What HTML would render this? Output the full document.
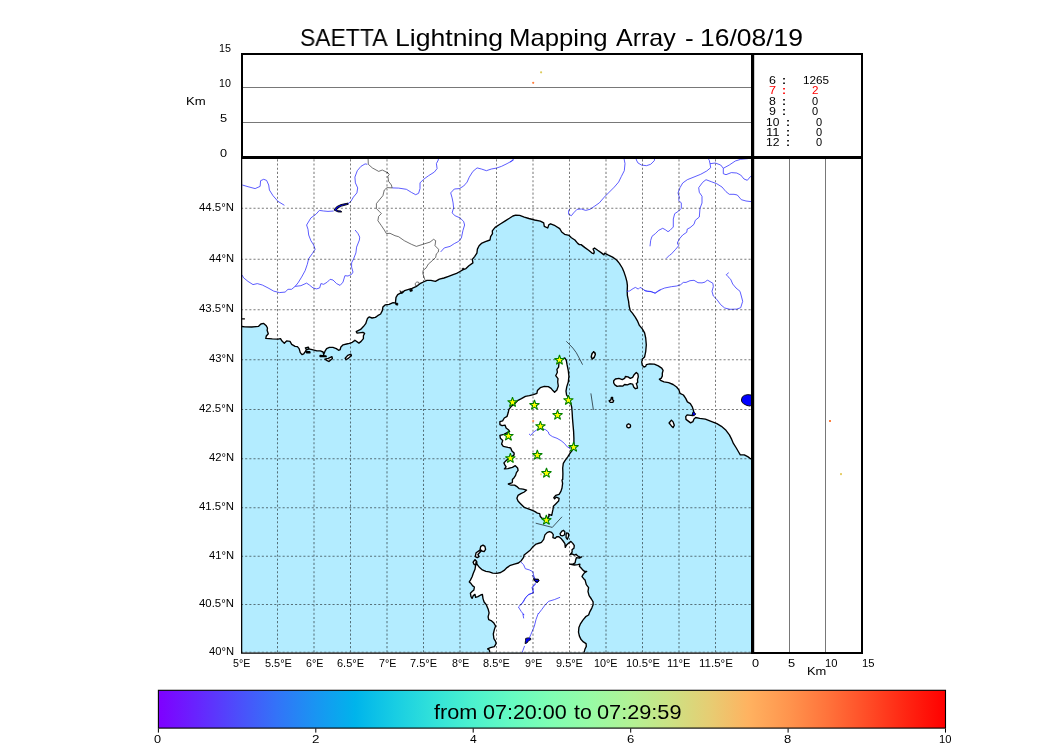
<!DOCTYPE html><html><head><meta charset="utf-8"><title>SAETTA Lightning Mapping Array</title>
<style>html,body{margin:0;padding:0;background:#fff}body{width:1050px;height:750px;position:relative;overflow:hidden;font-family:"Liberation Sans",sans-serif}
.t{position:absolute;white-space:pre;line-height:1;margin:0;padding:0;will-change:transform}
</style></head><body>
<svg width="1050" height="750" viewBox="0 0 1050 750" style="position:absolute;left:0;top:0">
<defs><clipPath id="mapclip"><rect x="241.5" y="157.5" width="511" height="495"/></clipPath>
<linearGradient id="rb" x1="0" x2="1" y1="0" y2="0">
<stop offset="0%" stop-color="#7f00ff"/>
<stop offset="5%" stop-color="#6725fe"/>
<stop offset="10%" stop-color="#4d4dfb"/>
<stop offset="15%" stop-color="#3373f8"/>
<stop offset="20%" stop-color="#1995f2"/>
<stop offset="25%" stop-color="#00b4eb"/>
<stop offset="30%" stop-color="#18cde3"/>
<stop offset="35%" stop-color="#32e2d9"/>
<stop offset="40%" stop-color="#4cf2ce"/>
<stop offset="45%" stop-color="#66fbc1"/>
<stop offset="50%" stop-color="#80feb3"/>
<stop offset="55%" stop-color="#98fba5"/>
<stop offset="60%" stop-color="#b2f295"/>
<stop offset="65%" stop-color="#cce284"/>
<stop offset="70%" stop-color="#e6cd73"/>
<stop offset="75%" stop-color="#ffb260"/>
<stop offset="80%" stop-color="#ff954e"/>
<stop offset="85%" stop-color="#ff733b"/>
<stop offset="90%" stop-color="#ff4d27"/>
<stop offset="95%" stop-color="#ff2512"/>
<stop offset="100%" stop-color="#ff0000"/>
</linearGradient></defs>
<g clip-path="url(#mapclip)">
<rect x="241" y="157" width="512" height="496" fill="#b3ecff"/>
<path d="M236.0 326.5 242.0 326.5 244.9 326.9 251.7 327.0 258.6 326.3 260.9 324.0 263.7 323.4 266.0 325.4 267.5 328.0 267.1 330.3 268.3 333.7 266.3 336.0 265.8 338.3 272.3 338.9 278.0 339.1 280.5 338.6 282.0 341.1 284.3 343.2 286.6 340.9 290.0 341.4 291.7 344.3 295.1 346.3 297.4 346.6 299.1 348.6 300.3 352.6 302.0 354.6 303.7 353.9 305.4 351.4 306.6 349.4 308.3 348.9 311.1 349.4 314.0 350.1 316.9 350.9 320.3 350.9 323.1 352.0 323.7 354.6 324.9 351.4 326.6 348.6 329.4 347.4 332.9 347.4 336.3 348.6 338.6 350.3 340.1 349.7 340.9 346.9 343.1 344.8 346.6 344.0 349.4 343.4 352.3 342.3 354.6 340.6 354.9 340.3 358.9 343.1 361.1 341.4 363.4 338.6 363.4 335.7 364.6 333.4 362.9 332.3 357.1 333.1 356.2 331.7 360.6 329.4 363.4 326.6 365.7 323.7 367.4 318.6 369.1 316.9 372.0 318.0 375.4 317.4 377.7 315.7 380.6 314.0 382.3 310.6 382.9 307.1 385.1 304.9 389.1 304.3 393.1 302.6 395.4 303.1 396.0 297.4 397.7 294.6 400.0 293.4 402.3 292.9 404.6 290.6 408.6 289.4 412.0 288.3 416.0 286.6 420.0 283.7 423.4 282.0 426.9 280.3 430.9 280.3 435.4 281.4 439.4 279.1 444.0 278.0 448.6 276.3 453.1 274.6 456.6 273.4 459.1 272.0 463.1 269.7 466.0 268.6 468.9 265.7 472.9 262.9 472.3 259.4 474.6 256.6 476.9 253.1 477.4 249.1 479.1 245.7 481.4 243.4 485.4 241.7 490.0 240.0 490.6 236.6 492.5 233.7 492.3 230.9 495.1 227.4 500.3 224.0 504.9 221.1 509.4 218.3 512.9 216.0 515.7 215.2 519.7 215.4 524.3 217.1 528.9 218.5 534.6 220.0 540.3 221.1 543.7 222.9 544.3 226.3 547.7 228.0 548.9 224.6 550.6 223.8 555.1 225.7 559.7 228.6 561.7 232.0 564.6 234.3 569.1 235.4 571.4 237.7 574.9 240.0 577.7 243.4 579.4 244.6 581.1 244.6 584.6 247.4 588.6 250.3 592.0 253.1 593.7 253.7 594.3 252.0 593.1 249.1 594.5 248.0 597.7 250.3 601.1 252.6 604.0 254.9 604.6 253.1 608.0 254.9 612.6 257.1 616.6 260.0 619.4 263.4 622.3 268.0 624.2 272.6 625.7 277.1 626.9 281.7 627.4 285.7 627.2 291.4 627.4 295.7 628.6 301.4 629.1 306.0 630.3 310.6 632.6 313.4 635.4 317.4 637.7 321.4 639.4 325.4 642.3 328.9 644.6 332.9 645.7 338.0 646.3 344.9 645.7 351.7 644.6 356.9 642.3 359.1 642.5 359.6 641.7 361.9 642.3 365.3 644.0 367.0 645.7 366.4 646.3 364.7 649.7 363.9 654.3 364.1 658.3 365.9 661.7 368.1 663.1 370.4 662.3 373.3 662.3 376.1 661.1 378.4 659.4 379.2 661.1 380.7 664.0 381.9 668.6 382.7 673.1 384.5 676.6 387.0 678.9 389.9 680.0 393.3 683.4 395.0 685.7 398.4 687.4 401.9 690.3 403.6 692.0 406.4 692.3 406.9 693.4 410.3 694.0 412.6 692.9 415.7 687.1 414.9 685.7 416.6 686.0 419.4 688.3 421.1 690.6 422.9 692.9 421.7 694.0 418.9 695.7 417.5 699.7 418.3 705.4 419.1 711.1 421.4 716.9 423.7 721.4 426.3 726.0 430.3 729.4 434.9 731.7 439.4 733.4 443.4 736.3 448.0 738.6 452.0 740.3 454.9 744.3 454.9 747.7 456.6 750.0 458.3 752.9 460.2 758.0 460.5 758.0 150.0 236.0 150.0Z M502.6 420.9 504.3 418.0 507.1 416.3 508.3 412.3 508.9 409.4 511.1 406.6 514.6 403.7 518.0 400.3 521.4 398.6 525.4 396.3 529.4 395.7 533.4 394.6 536.9 393.4 537.4 390.6 540.3 387.7 544.3 386.3 548.3 386.6 551.1 388.3 552.9 390.6 554.6 392.3 556.9 390.0 558.3 386.0 557.7 382.0 558.0 378.6 555.7 375.7 557.4 372.3 556.9 369.4 558.6 367.1 558.9 363.7 559.7 359.7 563.1 358.6 564.9 358.0 566.3 360.3 567.1 364.9 568.3 370.6 568.9 376.3 568.3 382.0 566.8 386.6 566.0 391.1 566.6 395.1 568.9 398.0 570.6 402.6 571.7 407.1 572.1 411.7 572.5 418.6 573.0 424.6 573.6 431.4 573.9 438.3 573.9 444.0 573.0 448.6 571.9 450.9 570.1 453.1 567.9 456.6 565.0 460.6 563.3 463.4 562.7 468.0 562.9 473.7 562.7 479.4 562.0 480.0 562.6 483.4 562.0 488.0 560.9 491.4 559.1 494.3 555.7 495.4 553.8 497.7 554.6 498.9 556.3 497.1 559.1 498.3 558.6 501.1 555.7 504.0 553.4 506.3 552.9 509.7 552.3 512.6 551.7 515.4 548.9 514.3 548.9 516.6 546.6 518.9 543.7 518.3 542.0 518.3 540.3 516.6 539.7 513.7 537.4 513.1 534.6 511.4 531.1 509.9 527.7 508.6 524.3 507.4 522.6 505.7 520.3 503.4 518.0 501.1 516.9 498.3 518.0 495.4 520.9 493.7 524.3 492.0 526.6 490.1 523.1 489.1 519.1 488.6 517.4 486.9 514.6 485.1 511.1 485.1 508.3 484.0 511.7 482.9 512.4 482.3 512.4 479.4 514.1 477.7 515.6 475.4 516.4 472.6 518.1 470.3 517.6 468.0 515.3 465.7 512.4 467.4 507.9 468.6 504.4 468.9 506.1 466.9 505.0 465.1 503.9 462.9 506.7 460.0 511.9 456.6 514.1 454.9 514.1 453.1 511.9 450.9 510.7 448.0 507.9 447.4 503.3 446.3 501.6 444.0 502.7 440.6 500.4 438.3 499.9 435.4 503.9 434.3 509.6 431.4 508.4 429.7 506.1 428.0 505.0 425.1 502.1 425.7 499.9 424.6 499.9 421.7Z M489.9 656.3 489.9 652.9 489.3 650.0 487.6 648.9 490.4 647.7 494.4 646.6 496.1 643.7 495.6 641.4 493.9 638.6 493.3 634.0 494.4 629.4 495.6 626.0 493.9 623.1 491.6 620.9 488.7 619.7 488.1 616.9 489.1 612.9 488.1 608.9 486.4 604.9 484.1 602.0 483.0 598.6 482.4 594.4 480.7 595.0 477.9 596.7 475.6 597.3 475.0 594.4 473.3 595.6 472.1 598.4 471.0 596.7 470.4 593.3 472.1 591.6 473.9 589.9 474.4 587.0 472.7 585.9 471.0 583.6 469.3 581.9 470.4 580.1 472.1 576.7 473.3 573.3 475.0 569.3 475.6 565.3 476.1 561.9 477.3 564.7 479.6 567.6 482.4 569.9 485.9 571.3 489.3 571.8 492.7 573.1 496.7 573.3 500.7 572.5 504.1 570.4 507.0 567.6 510.4 565.3 514.4 564.1 518.4 563.0 521.3 560.7 523.6 557.3 524.1 555.0 527.0 552.7 530.4 549.9 533.3 546.4 536.1 544.1 539.6 543.0 541.4 542.3 543.7 539.4 544.9 534.9 547.1 532.6 549.4 531.7 551.6 532.4 553.3 534.6 552.9 537.6 555.0 538.4 556.7 536.7 558.9 536.7 561.0 538.4 563.1 541.0 564.9 543.6 565.3 547.4 566.6 544.9 568.7 543.1 570.9 541.4 573.0 543.6 574.3 545.7 573.9 548.3 572.1 549.6 572.1 552.1 570.0 554.7 572.1 553.9 574.3 555.1 576.0 554.3 577.7 556.0 580.3 557.3 581.6 556.9 579.4 558.1 576.4 557.7 575.6 560.3 575.1 562.9 573.0 564.1 569.6 564.1 574.3 565.0 577.7 564.6 579.9 564.1 579.4 566.3 581.1 568.0 582.9 570.1 584.6 571.4 586.7 571.4 584.6 572.7 582.9 574.9 582.0 576.6 583.7 578.7 585.0 580.0 585.1 580.1 586.3 584.7 588.6 587.6 588.0 591.6 589.1 595.6 591.4 599.0 593.1 601.9 593.1 604.7 591.8 608.1 589.9 611.6 588.6 615.0 585.7 616.7 582.9 620.1 580.6 623.6 578.9 627.6 578.5 632.1 579.4 636.1 581.1 639.6 583.4 641.9 586.1 643.6 586.3 646.4 584.9 649.3 584.0 652.7 583.4 657.3Z M320.1 355.5 326.0 355.8 326.2 356.7 320.1 356.5Z M324.9 359.2 328.3 358.3 331.9 356.6 332.4 358.5 328.9 361.5 326.6 360.3Z M345.2 358.3 347.7 355.4 350.9 354.2 351.4 355.8 348.6 358.1 346.0 359.7Z M305.4 347.8 308.3 347.1 309.1 348.9 306.6 349.8Z M306.3 351.7 309.8 351.7 310.0 352.8 306.6 352.8Z M593.7 351.7 595.4 354.0 594.3 357.4 592.3 359.1 591.2 356.9 592.0 353.4Z M593.7 351.7 595.0 352.7 595.3 354.7 594.3 357.0 592.9 358.5 591.6 357.9 591.4 355.9 592.3 353.3Z M613.7 380.7 615.4 379.0 618.9 378.4 622.3 379.6 624.6 378.4 625.4 376.5 628.0 376.9 630.3 378.4 632.6 377.3 634.3 374.4 636.3 372.4 637.9 373.9 638.3 376.7 637.5 379.6 637.7 382.4 636.3 383.6 637.1 385.9 637.5 388.1 635.4 388.7 633.7 387.0 632.6 384.1 630.3 383.6 627.4 384.9 624.6 384.5 622.9 386.1 620.0 385.9 617.1 386.4 614.9 384.9 613.7 383.0Z M611.4 397.5 612.6 397.5 612.6 399.8 613.7 400.7 612.8 402.4 610.3 402.4 609.1 400.9 610.9 399.8Z M628.6 423.8 630.1 424.5 630.6 425.9 630.1 427.3 628.6 427.9 627.2 427.3 626.6 425.9 627.2 424.5Z M671.4 420.1 673.1 421.9 674.3 425.3 673.1 427.6 671.4 425.9 669.1 423.0Z M475.0 559.6 476.7 561.5 476.9 564.1 475.6 565.3 473.9 564.1 473.1 562.2Z M476.1 552.7 479.6 550.4 480.7 551.6 477.9 554.4 479.0 556.7 477.3 557.6 475.3 556.7Z M480.7 546.4 483.0 545.1 484.9 546.4 485.6 549.3 484.1 551.6 481.9 551.0 480.1 549.3Z M560.1 533.7 561.9 531.1 563.6 530.3 564.9 532.0 564.4 535.0 562.3 535.9 560.6 535.4Z M566.6 532.9 568.3 533.3 568.7 535.9 567.4 539.3 566.1 537.6 566.1 534.6Z" fill="#fff" stroke="#000" stroke-width="1.35" stroke-linejoin="round"/>
<path d="M741.4 400.0 742.2 397.1 744.3 395.4 747.7 394.6 751.4 395.1 753.4 397.1 754.0 400.6 752.9 404.0 750.0 406.1 746.6 405.4 743.7 403.8 742.0 402.3Z M693.1 411.6 695.8 413.9 694.3 415.6 692.0 415.0Z M533.9 577.9 535.6 579.0 538.4 579.3 539.0 580.7 537.5 582.4 535.6 581.9 534.4 580.1Z M525.7 638.4 528.0 637.9 530.5 638.1 530.9 639.6 528.6 640.7 526.9 643.0 525.1 643.6 525.5 640.7Z M533.7 578.4 535.4 579.6 538.3 579.3 538.9 580.7 537.1 582.4 535.4 581.6 533.9 580.1Z M348.0 203.1 340.9 204.6 336.6 206.7 334.0 210.0 338.0 211.9 341.6 212.1 341.1 211.0 338.0 210.7 336.6 209.6 338.0 207.9 341.6 206.1 348.3 204.3Z" fill="#0000ff" stroke="#000" stroke-width="0.9" stroke-linejoin="round"/>
<path d="M242.3 185.0 248.0 186.7 255.1 188.6 260.1 186.4 260.6 180.7 263.7 179.3 266.6 180.4 268.7 185.0 269.4 190.0 273.0 195.7 278.0 201.4 284.4 205.3 M367.3 164.3 365.1 163.9 360.9 166.4 357.3 170.7 354.9 177.1 355.4 182.9 357.7 187.9 356.9 192.9 353.4 197.1 350.9 201.4 348.0 203.6 M333.7 211.0 328.0 211.4 323.7 211.0 319.4 210.4 315.9 214.3 310.9 217.9 306.6 225.0 308.0 229.3 308.7 235.0 310.9 240.7 313.7 245.0 315.1 249.3 312.3 253.6 308.7 258.6 307.3 264.3 305.1 270.7 301.6 277.1 298.0 282.9 295.1 286.4 291.6 289.3 288.0 289.3 285.1 292.1 279.4 292.6 273.7 291.1 268.0 287.9 262.3 285.0 257.3 283.6 253.0 284.6 248.0 281.4 243.7 277.9 242.0 275.0 M355.1 230.0 358.0 233.6 359.7 237.1 359.4 240.0 356.6 247.1 355.9 252.9 353.7 258.6 351.6 262.9 351.6 267.1 353.0 272.1 351.6 274.3 348.0 276.0 344.9 275.7 343.0 282.1 340.1 285.4 336.6 283.6 333.0 280.0 330.1 279.3 327.3 282.1 323.7 284.3 320.9 283.6 319.7 287.9 316.6 288.9 313.0 287.9 309.4 285.0 306.6 283.1 300.9 285.7 295.1 286.4 M392.1 187.9 398.6 188.1 406.4 189.3 411.4 192.4 415.7 194.7 418.6 193.3 420.0 188.6 420.0 182.9 423.6 179.3 428.6 175.7 434.3 172.1 437.1 168.6 436.4 163.6 438.3 160.0 438.6 156.4 M513.6 160.0 507.1 163.6 501.4 166.4 496.4 168.1 491.4 169.0 486.4 170.7 481.4 169.0 477.1 167.9 472.9 171.4 469.3 177.1 467.1 182.1 463.6 186.1 459.3 188.6 454.3 189.0 450.7 192.9 452.1 197.9 453.1 202.9 453.6 207.9 452.1 212.9 455.0 215.7 460.0 217.9 463.6 221.4 464.6 225.0 462.9 230.7 461.4 237.9 458.6 241.4 454.3 243.6 450.0 246.4 444.3 247.9 440.7 251.9 M623.6 156.4 625.0 163.6 624.3 170.7 621.4 176.4 618.6 182.1 614.3 187.1 609.3 192.1 604.3 197.1 599.3 202.9 594.3 206.4 590.0 209.3 585.7 210.4 581.4 209.0 577.1 209.3 573.6 212.9 571.4 215.7 568.6 214.3 568.6 210.7 570.0 208.6 M635.7 156.4 636.4 160.0 637.9 162.9 641.4 165.0 646.4 165.7 650.7 164.3 654.3 160.7 655.0 156.4 M510.0 162.1 512.9 160.0 514.0 156.4 M706.7 156.3 709.3 160.3 710.0 163.7 710.7 167.7 706.7 171.0 700.7 174.3 694.0 177.0 687.3 179.7 682.7 183.0 680.0 187.7 678.0 193.0 679.3 197.0 678.7 200.3 681.3 203.0 681.3 208.3 678.7 211.0 674.7 213.7 673.3 219.0 673.3 227.0 670.0 230.3 668.0 231.7 665.3 229.7 662.7 228.3 658.7 230.3 655.3 233.7 652.0 236.3 650.7 240.3 650.0 246.3 M710.0 163.7 715.3 163.0 720.7 165.0 723.3 168.3 729.3 165.0 735.3 161.0 740.7 159.3 747.3 158.7 752.7 157.7 M723.3 168.3 723.3 173.7 726.0 174.7 731.3 172.6 736.7 173.0 740.7 175.0 744.0 179.0 747.3 180.3 750.7 176.3 753.3 173.7 M753.3 201.9 746.0 201.0 741.3 199.7 737.3 195.0 734.0 194.3 729.3 194.3 726.0 191.7 722.0 187.0 716.7 183.7 711.3 181.7 706.0 179.7 702.7 182.3 698.7 187.7 699.3 192.3 702.0 196.3 702.0 203.0 700.0 208.3 699.3 217.0 695.3 220.3 694.0 224.3 690.0 227.7 687.3 229.0 686.7 232.3 682.7 235.0 679.3 239.0 677.3 243.0 678.7 245.7 675.3 249.7 670.7 254.7 670.0 254.7 666.0 258.7 M626.9 291.4 629.7 290.9 633.1 288.6 635.4 287.4 638.3 289.1 640.0 287.4 642.3 288.6 645.1 290.9 650.3 291.4 650.0 291.3 655.3 293.1 658.7 290.4 664.7 288.0 671.3 286.7 676.7 286.0 680.7 284.7 683.3 282.4 686.0 282.4 690.0 280.7 694.0 280.3 698.0 282.7 702.0 282.9 705.3 282.0 707.3 280.0 710.0 281.6 712.9 283.3 713.3 286.7 712.0 291.3 713.3 296.0 716.7 299.3 720.7 304.7 724.7 308.0 730.0 309.3 736.7 309.1 740.7 307.7 742.7 301.3 741.3 296.0 740.0 291.3 736.0 288.0 732.7 284.0 730.7 279.3 728.0 276.7 726.3 274.7 728.7 272.7 M644.0 290.0 647.4 291.4 651.4 291.7 654.9 293.2 658.9 290.9 660.6 290.0 M529.0 433.9 530.7 435.4 533.6 432.0 537.0 429.7 541.0 428.6 545.6 429.7 548.4 432.0 549.0 434.3 552.4 436.6 557.0 438.3 561.0 440.6 564.4 443.4 567.3 446.9 570.7 448.6 M520.7 561.9 523.6 564.7 525.3 568.7 529.3 569.9 532.7 571.6 533.9 576.1 535.0 579.0 M535.6 584.1 532.7 587.0 533.3 592.7 528.1 595.0 524.7 599.0 521.9 603.6 518.4 607.0 521.3 611.6 524.1 615.0 522.9 613.9 523.7 618.4 M560.1 597.3 554.4 599.6 548.7 601.3 545.3 604.7 541.9 609.3 538.4 613.9 538.3 613.3 536.0 619.6 534.3 626.4 530.9 634.4 529.1 638.4 M524.6 645.9 522.9 650.4 521.7 653.9 521.1 657.3 M532.0 575.0 534.3 577.9 M536.0 582.4 534.3 584.7 532.0 587.6 533.5 592.7 528.6 594.4 525.7 597.3 523.4 601.9 520.0 605.3" fill="none" stroke="#3434ff" stroke-width="0.8" stroke-linejoin="round"/>
<path d="M368.0 156.4 368.3 164.3 372.3 167.9 378.7 171.4 382.3 170.0 388.0 172.9 387.1 172.1 389.3 174.3 387.9 176.4 388.6 181.4 391.4 185.0 392.1 187.9 387.1 187.6 384.3 190.0 382.9 195.7 379.3 200.0 376.4 203.6 376.4 208.6 379.3 211.4 381.4 213.6 378.6 216.4 377.9 220.7 381.4 225.7 384.3 230.0 386.4 233.6 390.0 233.3 395.0 235.7 398.6 236.7 404.3 240.7 411.4 244.3 416.4 246.4 422.9 244.3 430.0 242.1 433.6 239.3 435.7 240.7 435.0 245.7 438.6 249.3 438.3 252.1 436.3 253.9 435.7 257.3 432.3 260.7 428.3 264.1 426.0 268.1 423.1 270.4 422.8 273.3 423.7 276.1 424.6 279.0 425.4 280.7 M415.7 285.9 415.1 283.6 416.9 281.9 418.9 282.4 419.1 284.1 417.4 286.2" fill="none" stroke="#333" stroke-width="0.7" stroke-linejoin="round"/>
<path d="M242.0 318.9 244.9 318.9" fill="none" stroke="#000" stroke-width="1.1"/>
<path d="M395.4 302.7 398.0 303.3 397.8 305.3 395.7 304.9Z M399.9 290.4 401.4 292.1 402.6 290.8 402.0 293.3 400.6 293.1Z M409.4 289.6 412.1 288.9 412.5 291.0 410.2 291.7Z M462.0 268.4 463.9 268.1 463.7 269.7 462.3 269.6Z" fill="#000" stroke="#000" stroke-width="0.5"/>
<path d="M566.3 341.3 569.4 344.4 572.9 348.1 576.3 352.7 579.1 357.9 582.6 364.7 M590.9 393.4 593.4 410.0 M535.7 523.2 552.3 527.4 562.0 516.8" fill="none" stroke="#2a3a42" stroke-width="0.85"/>
<path d="M277.50 652.3V157 M314.00 652.3V157 M350.50 652.3V157 M387.00 652.3V157 M423.50 652.3V157 M460.00 652.3V157 M496.50 652.3V157 M533.00 652.3V157 M569.50 652.3V157 M606.00 652.3V157 M642.50 652.3V157 M679.00 652.3V157 M715.50 652.3V157 M241 652.3H753 M241 604.5H753 M241 556.3H753 M241 507.7H753 M241 458.8H753 M241 409.5H753 M241 359.8H753 M241 309.7H753 M241 259.2H753 M241 208.2H753" stroke="#000" stroke-width="1.04" stroke-dasharray="2.08 2.08" fill="none" opacity="0.52"/>
<circle cx="533.2" cy="421.1" r="1.1" fill="#ff8a4a"/><circle cx="541" cy="474.3" r="1.1" fill="#f0d890"/>
<path d="M559.5 354.9 560.7 358.5 564.4 358.5 561.4 360.7 562.5 364.3 559.5 362.0 556.4 364.3 557.6 360.7 554.5 358.5 558.3 358.5Z M512.5 397.1 513.7 400.7 517.5 400.7 514.4 403.0 515.6 406.5 512.5 404.3 509.5 406.5 510.6 403.0 507.6 400.7 511.3 400.7Z M534.5 399.9 535.6 403.5 539.4 403.5 536.3 405.7 537.5 409.3 534.5 407.1 531.4 409.3 532.6 405.7 529.5 403.5 533.3 403.5Z M568.4 395.1 569.6 398.7 573.3 398.7 570.3 400.9 571.5 404.5 568.4 402.3 565.3 404.5 566.5 400.9 563.5 398.7 567.2 398.7Z M557.5 409.9 558.7 413.5 562.5 413.5 559.4 415.8 560.6 419.3 557.5 417.1 554.5 419.3 555.7 415.8 552.6 413.5 556.4 413.5Z M540.4 421.1 541.6 424.7 545.4 424.7 542.3 426.9 543.5 430.5 540.4 428.3 537.4 430.5 538.5 426.9 535.5 424.7 539.3 424.7Z M508.4 430.8 509.6 434.4 513.4 434.4 510.3 436.6 511.5 440.2 508.4 438.0 505.4 440.2 506.5 436.6 503.5 434.4 507.3 434.4Z M573.6 442.0 574.7 445.6 578.5 445.6 575.5 447.8 576.6 451.4 573.6 449.2 570.5 451.4 571.7 447.8 568.6 445.6 572.4 445.6Z M510.4 453.1 511.5 456.7 515.3 456.7 512.3 458.9 513.4 462.5 510.4 460.3 507.3 462.5 508.5 458.9 505.4 456.7 509.2 456.7Z M537.3 449.9 538.5 453.5 542.3 453.5 539.2 455.7 540.4 459.3 537.3 457.1 534.3 459.3 535.5 455.7 532.4 453.5 536.2 453.5Z M546.5 467.9 547.7 471.5 551.4 471.5 548.4 473.8 549.5 477.3 546.5 475.1 543.4 477.3 544.6 473.8 541.5 471.5 545.3 471.5Z M546.3 515.0 547.5 518.6 551.3 518.6 548.2 520.8 549.4 524.4 546.3 522.2 543.3 524.4 544.5 520.8 541.4 518.6 545.2 518.6Z" fill="#ffff00" stroke="#008000" stroke-width="1.05" stroke-linejoin="bevel"/>
</g>
<path d="M242 87.5H752M242 122.5H752" stroke="#787878" stroke-width="1" fill="none"/>
<path d="M789.5 158V652M825.5 158V652" stroke="#787878" stroke-width="1" fill="none"/>
<circle cx="541.1" cy="72.3" r="1.1" fill="#dccb5c"/><circle cx="533.2" cy="82.8" r="1.1" fill="#ff7f3f"/>
<rect x="829" y="420" width="2" height="2" fill="#ff7f3f"/><rect x="840" y="473.1" width="2" height="2" fill="#e6cf6a"/>
<path d="M241.65 157V653.15H752" fill="none" stroke="#000" stroke-width="1.25"/>
<path d="M242 158V54H862V653H752" fill="none" stroke="#000" stroke-width="2"/>
<path d="M241 157.5H863" stroke="#000" stroke-width="3" fill="none"/>
<path d="M752.6 53V654" stroke="#000" stroke-width="3.2" fill="none"/>
<rect x="158.4" y="690.3" width="787.1" height="37.8" fill="url(#rb)" stroke="#000" stroke-width="1.1"/>
<path d="M158.4 728.5V732.6 M315.8 728.5V732.6 M473.2 728.5V732.6 M630.7 728.5V732.6 M788.1 728.5V732.6 M945.5 728.5V732.6" stroke="#000" stroke-width="1" fill="none"/>
</svg>
<div class="t" style="top:25.9px;font-size:23.8px;color:#000;left:299.8px;transform-origin:0 0;transform:scaleX(0.9629)">SAETTA</div>
<div class="t" style="top:25.9px;font-size:23.8px;color:#000;left:394.6px;transform-origin:0 0;transform:scaleX(1.1183)">Lightning</div>
<div class="t" style="top:25.9px;font-size:23.8px;color:#000;left:509.0px;transform-origin:0 0;transform:scaleX(1.0806)">Mapping</div>
<div class="t" style="top:25.9px;font-size:23.8px;color:#000;left:616.3px;transform-origin:0 0;transform:scaleX(1.0495)">Array</div>
<div class="t" style="top:25.9px;font-size:23.8px;color:#000;left:685.1px;transform-origin:0 0;transform:scaleX(1.0976)">-</div>
<div class="t" style="top:25.9px;font-size:23.8px;color:#000;left:699.7px;transform-origin:0 0;transform:scaleX(1.1123)">16/08/19</div>
<div class="t" style="top:43.8px;font-size:10.4px;color:#000;left:219.1px;transform-origin:0 0;transform:scaleX(1.034)">15</div>
<div class="t" style="top:78.6px;font-size:10.4px;color:#000;left:219.1px;transform-origin:0 0;transform:scaleX(1.0288)">10</div>
<div class="t" style="top:113.6px;font-size:10.4px;color:#000;left:219.7px;transform-origin:0 0;transform:scaleX(1.2348)">5</div>
<div class="t" style="top:148.7px;font-size:10.4px;color:#000;left:219.7px;transform-origin:0 0;transform:scaleX(1.222)">0</div>
<div class="t" style="top:94.7px;font-size:11.6px;color:#000;left:185.7px;transform-origin:0 0;transform:scaleX(1.1325)">Km</div>
<div class="t" style="top:646.8px;font-size:10.4px;color:#000;left:209.2px;transform-origin:0 0;transform:scaleX(1.0789)">40°N</div>
<div class="t" style="top:599.0px;font-size:10.4px;color:#000;left:199.3px;transform-origin:0 0;transform:scaleX(1.0961)">40.5°N</div>
<div class="t" style="top:550.8px;font-size:10.4px;color:#000;left:209.2px;transform-origin:0 0;transform:scaleX(1.0789)">41°N</div>
<div class="t" style="top:502.2px;font-size:10.4px;color:#000;left:199.3px;transform-origin:0 0;transform:scaleX(1.0961)">41.5°N</div>
<div class="t" style="top:453.3px;font-size:10.4px;color:#000;left:209.2px;transform-origin:0 0;transform:scaleX(1.0789)">42°N</div>
<div class="t" style="top:404.0px;font-size:10.4px;color:#000;left:199.3px;transform-origin:0 0;transform:scaleX(1.0961)">42.5°N</div>
<div class="t" style="top:354.3px;font-size:10.4px;color:#000;left:209.2px;transform-origin:0 0;transform:scaleX(1.0789)">43°N</div>
<div class="t" style="top:304.2px;font-size:10.4px;color:#000;left:199.3px;transform-origin:0 0;transform:scaleX(1.0961)">43.5°N</div>
<div class="t" style="top:253.7px;font-size:10.4px;color:#000;left:209.2px;transform-origin:0 0;transform:scaleX(1.0789)">44°N</div>
<div class="t" style="top:202.7px;font-size:10.4px;color:#000;left:199.3px;transform-origin:0 0;transform:scaleX(1.0961)">44.5°N</div>
<div class="t" style="top:659.0px;font-size:10.4px;color:#000;left:232.8px;transform-origin:0 0;transform:scaleX(1.024)">5°E</div>
<div class="t" style="top:659.0px;font-size:10.4px;color:#000;left:264.5px;transform-origin:0 0;transform:scaleX(1.0526)">5.5°E</div>
<div class="t" style="top:659.0px;font-size:10.4px;color:#000;left:305.7px;transform-origin:0 0;transform:scaleX(1.0307)">6°E</div>
<div class="t" style="top:659.0px;font-size:10.4px;color:#000;left:337.4px;transform-origin:0 0;transform:scaleX(1.0571)">6.5°E</div>
<div class="t" style="top:659.0px;font-size:10.4px;color:#000;left:378.7px;transform-origin:0 0;transform:scaleX(1.0307)">7°E</div>
<div class="t" style="top:659.0px;font-size:10.4px;color:#000;left:410.4px;transform-origin:0 0;transform:scaleX(1.0571)">7.5°E</div>
<div class="t" style="top:659.0px;font-size:10.4px;color:#000;left:451.7px;transform-origin:0 0;transform:scaleX(1.0273)">8°E</div>
<div class="t" style="top:659.0px;font-size:10.4px;color:#000;left:483.4px;transform-origin:0 0;transform:scaleX(1.0549)">8.5°E</div>
<div class="t" style="top:659.0px;font-size:10.4px;color:#000;left:524.7px;transform-origin:0 0;transform:scaleX(1.0273)">9°E</div>
<div class="t" style="top:659.0px;font-size:10.4px;color:#000;left:556.4px;transform-origin:0 0;transform:scaleX(1.0549)">9.5°E</div>
<div class="t" style="top:659.0px;font-size:10.4px;color:#000;left:594.4px;transform-origin:0 0;transform:scaleX(1.0409)">10°E</div>
<div class="t" style="top:659.0px;font-size:10.4px;color:#000;left:625.8px;transform-origin:0 0;transform:scaleX(1.0828)">10.5°E</div>
<div class="t" style="top:659.0px;font-size:10.4px;color:#000;left:667.4px;transform-origin:0 0;transform:scaleX(1.0775)">11°E</div>
<div class="t" style="top:659.0px;font-size:10.4px;color:#000;left:698.7px;transform-origin:0 0;transform:scaleX(1.1116)">11.5°E</div>
<div class="t" style="top:658.6px;font-size:10.4px;color:#000;left:752.4px;transform-origin:0 0;transform:scaleX(1.222)">0</div>
<div class="t" style="top:658.6px;font-size:10.4px;color:#000;left:788.4px;transform-origin:0 0;transform:scaleX(1.2348)">5</div>
<div class="t" style="top:658.6px;font-size:10.4px;color:#000;left:824.6px;transform-origin:0 0;transform:scaleX(1.0769)">10</div>
<div class="t" style="top:658.6px;font-size:10.4px;color:#000;left:861.6px;transform-origin:0 0;transform:scaleX(1.0823)">15</div>
<div class="t" style="top:665.4px;font-size:11.6px;color:#000;left:806.9px;transform-origin:0 0;transform:scaleX(1.1134)">Km</div>
<div class="t" style="top:735.0px;font-size:10.4px;color:#000;left:154.4px;transform-origin:0 0;transform:scaleX(1.222)">0</div>
<div class="t" style="top:735.0px;font-size:10.4px;color:#000;left:311.8px;transform-origin:0 0;transform:scaleX(1.2891)">2</div>
<div class="t" style="top:735.0px;font-size:10.4px;color:#000;left:469.7px;transform-origin:0 0;transform:scaleX(1.1615)">4</div>
<div class="t" style="top:735.0px;font-size:10.4px;color:#000;left:626.8px;transform-origin:0 0;transform:scaleX(1.2614)">6</div>
<div class="t" style="top:735.0px;font-size:10.4px;color:#000;left:784.4px;transform-origin:0 0;transform:scaleX(1.248)">8</div>
<div class="t" style="top:735.0px;font-size:10.4px;color:#000;left:939.1px;transform-origin:0 0;transform:scaleX(1.0769)">10</div>
<div class="t" style="top:703.0px;font-size:19.8px;color:#000;left:433.6px;transform-origin:0 0;transform:scaleX(1.0943)">from</div>
<div class="t" style="top:703.0px;font-size:19.8px;color:#000;left:483.1px;transform-origin:0 0;transform:scaleX(1.0869)">07:20:00</div>
<div class="t" style="top:703.0px;font-size:19.8px;color:#000;left:573.8px;transform-origin:0 0;transform:scaleX(1.0749)">to</div>
<div class="t" style="top:703.0px;font-size:19.8px;color:#000;left:597.2px;transform-origin:0 0;transform:scaleX(1.0977)">07:29:59</div>
<div class="t" style="top:75.9px;font-size:10.4px;color:#000;left:769.2px;transform-origin:0 0;transform:scaleX(1.1993)">6</div>
<div class="t" style="top:75.9px;font-size:10.4px;color:#000;left:782.3px;transform-origin:0 0;transform:scaleX(1.1676)"><b>:</b></div>
<div class="t" style="top:75.9px;font-size:10.4px;color:#000;left:802.5px;transform-origin:0 0;transform:scaleX(1.1301)">1265</div>
<div class="t" style="top:86.0px;font-size:10.4px;color:#ff0000;left:769.2px;transform-origin:0 0;transform:scaleX(1.2257)">7</div>
<div class="t" style="top:86.0px;font-size:10.4px;color:#ff0000;left:782.3px;transform-origin:0 0;transform:scaleX(1.1676)"><b>:</b></div>
<div class="t" style="top:86.0px;font-size:10.4px;color:#ff0000;left:812.2px;transform-origin:0 0;transform:scaleX(1.12)">2</div>
<div class="t" style="top:96.7px;font-size:10.4px;color:#000;left:769.2px;transform-origin:0 0;transform:scaleX(1.1866)">8</div>
<div class="t" style="top:96.7px;font-size:10.4px;color:#000;left:782.3px;transform-origin:0 0;transform:scaleX(1.1676)"><b>:</b></div>
<div class="t" style="top:96.7px;font-size:10.4px;color:#000;left:812.4px;transform-origin:0 0;transform:scaleX(1.0617)">0</div>
<div class="t" style="top:106.9px;font-size:10.4px;color:#000;left:769.2px;transform-origin:0 0;transform:scaleX(1.1993)">9</div>
<div class="t" style="top:106.9px;font-size:10.4px;color:#000;left:782.3px;transform-origin:0 0;transform:scaleX(1.1676)"><b>:</b></div>
<div class="t" style="top:106.9px;font-size:10.4px;color:#000;left:812.4px;transform-origin:0 0;transform:scaleX(1.0617)">0</div>
<div class="t" style="top:117.5px;font-size:10.4px;color:#000;left:766.1px;transform-origin:0 0;transform:scaleX(1.1538)">10</div>
<div class="t" style="top:117.5px;font-size:10.4px;color:#000;left:785.8px;transform-origin:0 0;transform:scaleX(1.1676)"><b>:</b></div>
<div class="t" style="top:117.5px;font-size:10.4px;color:#000;left:815.6px;transform-origin:0 0;transform:scaleX(1.0617)">0</div>
<div class="t" style="top:127.7px;font-size:10.4px;color:#000;left:766.0px;transform-origin:0 0;transform:scaleX(1.261)">11</div>
<div class="t" style="top:127.7px;font-size:10.4px;color:#000;left:785.8px;transform-origin:0 0;transform:scaleX(1.1676)"><b>:</b></div>
<div class="t" style="top:127.7px;font-size:10.4px;color:#000;left:815.6px;transform-origin:0 0;transform:scaleX(1.0617)">0</div>
<div class="t" style="top:137.9px;font-size:10.4px;color:#000;left:766.1px;transform-origin:0 0;transform:scaleX(1.1714)">12</div>
<div class="t" style="top:137.9px;font-size:10.4px;color:#000;left:785.8px;transform-origin:0 0;transform:scaleX(1.1676)"><b>:</b></div>
<div class="t" style="top:137.9px;font-size:10.4px;color:#000;left:815.6px;transform-origin:0 0;transform:scaleX(1.0617)">0</div>
</body></html>
